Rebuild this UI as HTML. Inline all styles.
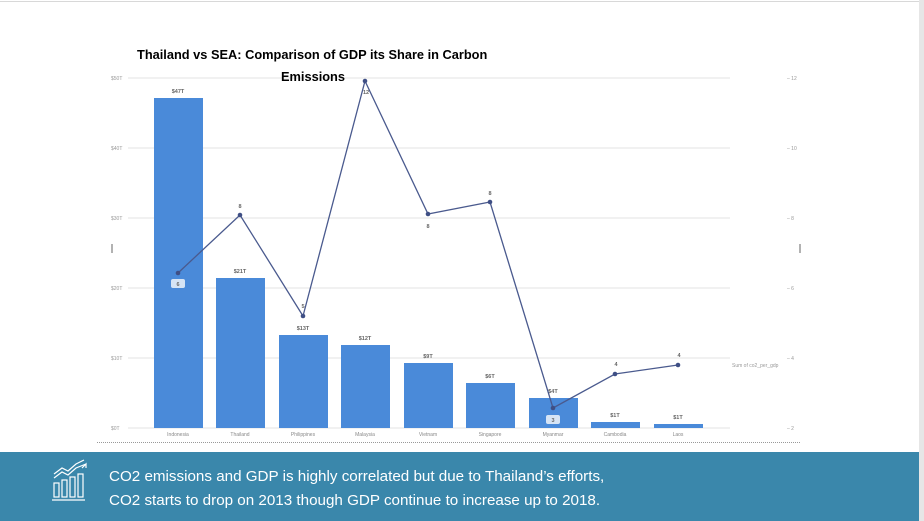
<!DOCTYPE html>
<html><head><meta charset="utf-8"><style>
body{margin:0;width:924px;height:521px;overflow:hidden;background:#fff;font-family:"Liberation Sans",sans-serif;}
</style></head><body>
<svg width="924" height="521" xmlns="http://www.w3.org/2000/svg" style="position:absolute;left:0;top:0">
<rect x="0" y="0" width="924" height="521" fill="#fff"/>
<line x1="0" y1="1.5" x2="924" y2="1.5" stroke="#d8d8d8"/>
<rect x="919" y="0" width="5" height="521" fill="#e6e6e6"/>
<g stroke="#e3e3e3" stroke-width="1">
<line x1="128" y1="78" x2="730" y2="78"/><line x1="128" y1="148" x2="730" y2="148"/>
<line x1="128" y1="218" x2="730" y2="218"/><line x1="128" y1="288" x2="730" y2="288"/>
<line x1="128" y1="358" x2="730" y2="358"/><line x1="128" y1="428" x2="730" y2="428"/>
</g>
<g font-size="5" fill="#999" text-anchor="start">
<text x="111" y="80">$50T</text><text x="111" y="150">$40T</text><text x="111" y="220">$30T</text>
<text x="111" y="290">$20T</text><text x="111" y="360">$10T</text><text x="111" y="430">$0T</text>
<text x="787" y="80">– 12</text><text x="787" y="150">– 10</text><text x="787" y="220">– 8</text>
<text x="787" y="290">– 6</text><text x="787" y="360">– 4</text><text x="787" y="430">– 2</text>
<text x="732" y="367">Sum of co2_per_gdp</text>
</g>
<line x1="112" y1="244" x2="112" y2="253" stroke="#666"/>
<line x1="800" y1="244" x2="800" y2="253" stroke="#666"/>
<line x1="97" y1="442.5" x2="800" y2="442.5" stroke="#999" stroke-dasharray="1 1"/>
<g fill="#4a8ad9">
<rect x="154" y="98" width="49" height="330"/><rect x="216" y="278" width="49" height="150"/>
<rect x="279" y="335" width="49" height="93"/><rect x="341" y="345" width="49" height="83"/>
<rect x="404" y="363" width="49" height="65"/><rect x="466" y="383" width="49" height="45"/>
<rect x="529" y="398" width="49" height="30"/><rect x="591" y="422" width="49" height="6"/>
<rect x="654" y="424" width="49" height="4"/>
</g>
<g font-size="5.5" fill="#666" text-anchor="middle" font-weight="bold">
<text x="178" y="93">$47T</text><text x="240" y="273">$21T</text><text x="303" y="330">$13T</text>
<text x="365" y="340">$12T</text><text x="428" y="358">$9T</text><text x="490" y="378">$6T</text>
<text x="553" y="393">$4T</text><text x="615" y="417">$1T</text><text x="678" y="419">$1T</text>
</g>
<g font-size="5" fill="#888" text-anchor="middle">
<text x="178" y="436">Indonesia</text><text x="240" y="436">Thailand</text><text x="303" y="436">Philippines</text>
<text x="365" y="436">Malaysia</text><text x="428" y="436">Vietnam</text><text x="490" y="436">Singapore</text>
<text x="553" y="436">Myanmar</text><text x="615" y="436">Cambodia</text><text x="678" y="436">Laos</text>
</g>
<polyline fill="none" stroke="#4a5a8e" stroke-width="1.3" points="178,273 240,215 303,316 365,81 428,214 490,202 553,408 615,374 678,365"/>
<g fill="#3f4f85">
<circle cx="178" cy="273" r="2.3"/><circle cx="240" cy="215" r="2.3"/><circle cx="303" cy="316" r="2.3"/>
<circle cx="365" cy="81" r="2.3"/><circle cx="428" cy="214" r="2.3"/><circle cx="490" cy="202" r="2.3"/>
<circle cx="553" cy="408" r="2.3"/><circle cx="615" cy="374" r="2.3"/><circle cx="678" cy="365" r="2.3"/>
</g>
<rect x="171" y="279" width="14" height="9" rx="2" fill="#d6e4f5"/>
<rect x="546" y="415" width="14" height="9" rx="2" fill="#d6e4f5"/>
<g font-size="5.5" fill="#666" text-anchor="middle" font-weight="bold">
<text x="178" y="286">6</text><text x="240" y="208">8</text><text x="303" y="308">5</text>
<text x="366" y="94">12</text><text x="428" y="228">8</text><text x="490" y="195">8</text>
<text x="553" y="422">3</text><text x="616" y="366">4</text><text x="679" y="357">4</text>
</g>
<text x="137" y="59" font-size="12.8" font-weight="bold" fill="#000">Thailand vs SEA: Comparison of GDP its Share in Carbon</text>
<text x="313" y="81" font-size="12.8" font-weight="bold" fill="#000" text-anchor="middle">Emissions</text>
<rect x="0" y="452" width="919" height="69" fill="#3a87ab"/>
<g stroke="#fff" stroke-width="1.2" fill="none">
<rect x="54" y="483" width="5" height="14"/><rect x="62" y="480" width="5" height="17"/>
<rect x="70" y="477" width="5" height="20"/><rect x="78" y="474" width="5" height="23"/>
<line x1="52" y1="500" x2="85" y2="500"/>
<polyline points="54,478 62,472 68,475 76,468 86,464"/>
<polyline points="54,474 62,468 68,471 76,464 84,460"/>
<polyline points="82,468 86,464 86,468"/>
</g>
<text x="109" y="481" font-size="15.2" fill="#fff">CO2 emissions and GDP is highly correlated but due to Thailand’s efforts,</text>
<text x="109" y="505" font-size="15.2" fill="#fff">CO2 starts to drop on 2013 though GDP continue to increase up to 2018.</text>
</svg>
</body></html>
